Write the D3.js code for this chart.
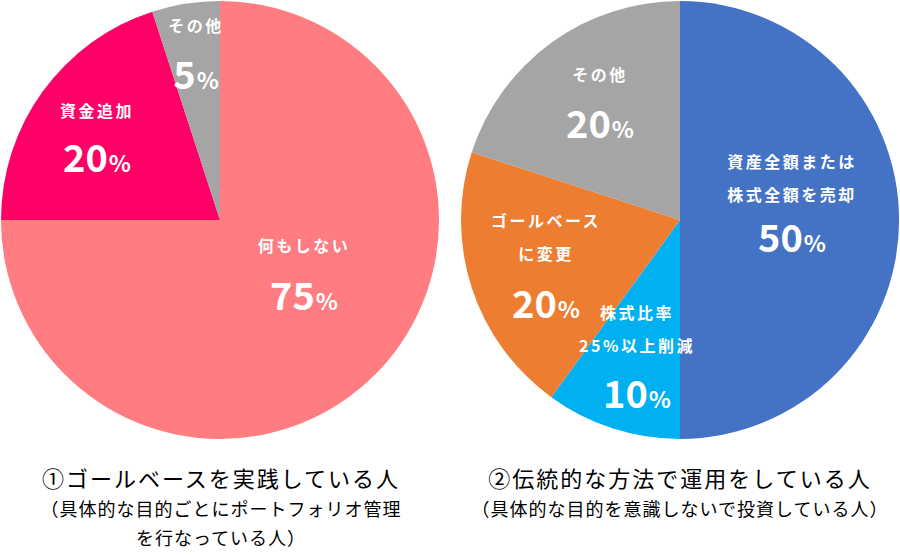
<!DOCTYPE html>
<html><head><meta charset="utf-8">
<script src="https://cdn.jsdelivr.net/npm/d3@7"></script>
<style>
html,body{margin:0;padding:0;background:#fff;}
svg{display:block;}
</style></head>
<body>
<svg id="chart" width="900" height="556"></svg>
<script>
// ---- data ----
const leftLabels = [["何もしない"], ["資金追加"], ["その他"]];
const leftValues = [75, 20, 5];
const rightLabels = [["資産全額または", "株式全額を売却"], ["株式比率", "25%以上削減"], ["ゴールベース", "に変更"], ["その他"]];
const rightValues = [50, 10, 20, 20];
const leftCaption = ["①ゴールベースを実践している人", "（具体的な目的ごとにポートフォリオ管理", "を行なっている人）"];
const rightCaption = ["②伝統的な方法で運用をしている人", "（具体的な目的を意識しないで投資している人）"];

// ---- styles / layout ----
const leftColors = ["#FF7C80", "#FF0066", "#A5A5A5"];
const rightColors = ["#4472C4", "#00B0F0", "#ED7D31", "#A5A5A5"];
// label anchor positions relative to pie center: [x, first-text-baseline, value-baseline]
const leftLabelPos = [[84, 32, 90], [-123, -103, -48], [-24, -188, -131]];
const rightLabelPos = [[112, -52, 32], [-43, 99, 188], [-134, 7, 98], [-80, -139, -82]];

const svg = d3.select("#chart");
const R = 219;
const FONT = "'Noto Sans CJK JP','Noto Sans',sans-serif";

function drawPie(cx, cy, values, colors, labels, pos) {
  const g = svg.append("g").attr("transform", `translate(${cx},${cy})`);
  const pie = d3.pie().sort(null).value(d => d)(values);
  const arc = d3.arc().innerRadius(0).outerRadius(R);
  g.selectAll("path").data(pie).join("path")
    .attr("d", arc).attr("fill", (d, i) => colors[i]);
  pie.forEach((d, i) => {
    const [x, y0, yv] = pos[i];
    labels[i].forEach((t, j) => {
      g.append("text").attr("x", x).attr("y", y0 + j * 33)
        .attr("text-anchor", "middle")
        .attr("font-family", FONT).attr("font-weight", 700)
        .attr("font-size", 16).attr("letter-spacing", 2.5)
        .attr("fill", "#fff").text(t);
    });
    const tv = g.append("text").attr("x", x).attr("y", yv)
      .attr("text-anchor", "middle")
      .attr("font-family", FONT).attr("font-weight", 700)
      .attr("fill", "#fff");
    tv.append("tspan").attr("font-size", 38).text(d.data);
    tv.append("tspan").attr("font-size", 23).attr("dx", 1).text("%");
  });
}

drawPie(220, 220, leftValues, leftColors, leftLabels, leftLabelPos);
drawPie(680, 220, rightValues, rightColors, rightLabels, rightLabelPos);

function caption(cx, lines) {
  lines.forEach((t, i) => {
    const first = i === 0;
    svg.append("text").attr("x", cx).attr("y", first ? 487 : 516 + (i - 1) * 29)
      .attr("text-anchor", "middle")
      .attr("font-family", FONT).attr("font-weight", 400)
      .attr("font-size", first ? 22 : 18)
      .attr("letter-spacing", first ? 2 : 1)
      .attr("fill", "#000").text(t);
  });
}
caption(221, leftCaption);
caption(680, rightCaption);
</script>
</body></html>
